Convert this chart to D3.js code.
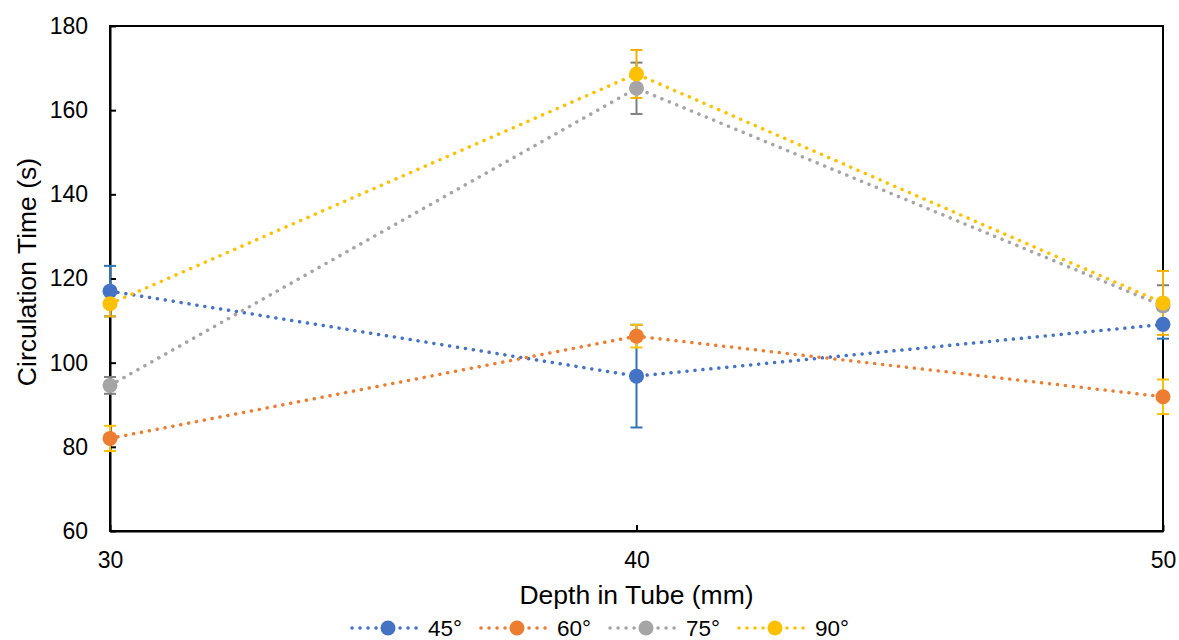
<!DOCTYPE html>
<html>
<head>
<meta charset="utf-8">
<script src="https://cdn.jsdelivr.net/npm/d3@7"></script>
<style>
  html, body { margin: 0; padding: 0; background: #fff; }
  svg { display: block; font-family: "Liberation Sans", Arial, sans-serif; }
</style>
</head>
<body>
<svg id="chart" width="1179" height="640"></svg>
<script>
// Depth positions along the tube (mm)
const depths = [30, 40, 50];
const xTicks = [30, 40, 50];
const yTicks = [60, 80, 100, 120, 140, 160, 180];

// Series names (tube angle)
const seriesNames = ["45°", "60°", "75°", "90°"];

// Mean circulation time (s) per depth
const time45 = [117.0, 96.8, 109.1];
const time60 = [82.0, 106.3, 91.9];
const time75 = [94.6, 165.2, 113.5];
const time90 = [114.0, 168.6, 114.2];

// Error bar half-widths (s)
const err45 = [6.0, 12.2, 3.4];
const err60 = [3.0, 2.7, 4.1];
const err75 = [2.0, 6.1, 4.9];
const err90 = [3.0, 5.7, 7.6];

const lineColors = ["#4472C4", "#ED7D31", "#A5A5A5", "#FFC000"];
const errColors = ["#2E75B6", "#FFC000", "#7F7F7F", "#F2B000"];

const series = seriesNames.map((name, i) => ({
  name,
  values: [time45, time60, time75, time90][i],
  errs: [err45, err60, err75, err90][i],
  color: lineColors[i],
  errColor: errColors[i]
}));

const svg = d3.select("#chart");
const plotLeft = 110, plotRight = 1163, plotTop = 26, plotBottom = 531;

const x = d3.scaleLinear().domain([30, 50]).range([plotLeft, plotRight]);
const y = d3.scaleLinear().domain([60, 180]).range([plotBottom, plotTop]);

// Plot frame
svg.append("rect")
  .attr("x", plotLeft).attr("y", plotTop)
  .attr("width", plotRight - plotLeft).attr("height", plotBottom - plotTop)
  .attr("fill", "none").attr("stroke", "#000").attr("stroke-width", 2);

// Axes with inward ticks
const yAxis = svg.append("g")
  .attr("transform", `translate(${plotLeft},0)`)
  .call(d3.axisLeft(y).tickValues(yTicks).tickSizeInner(-6).tickSizeOuter(0).tickPadding(22));
yAxis.select(".domain").attr("stroke", "#000").attr("stroke-width", 2);
yAxis.selectAll(".tick line").attr("stroke", "#000").attr("stroke-width", 2);
yAxis.selectAll(".tick text")
  .attr("font-size", 23).attr("fill", "#000")
  .attr("font-family", "Liberation Sans, Arial, sans-serif");

const xAxis = svg.append("g")
  .attr("transform", `translate(0,${plotBottom})`)
  .call(d3.axisBottom(x).tickValues(xTicks).tickSizeInner(-6).tickSizeOuter(0).tickPadding(21));
xAxis.select(".domain").attr("stroke", "#000").attr("stroke-width", 2);
xAxis.selectAll(".tick line").attr("stroke", "#000").attr("stroke-width", 2);
xAxis.selectAll(".tick text")
  .attr("font-size", 23).attr("fill", "#000")
  .attr("font-family", "Liberation Sans, Arial, sans-serif");

// Axis titles
svg.append("text")
  .attr("x", (plotLeft + plotRight) / 2).attr("y", 604)
  .attr("text-anchor", "middle").attr("font-size", 26.5).attr("fill", "#000")
  .text("Depth in Tube (mm)");

svg.append("text")
  .attr("transform", `translate(36,272) rotate(-90)`)
  .attr("text-anchor", "middle").attr("font-size", 26.5).attr("fill", "#000")
  .text("Circulation Time (s)");

const line = d3.line().x((d, i) => x(depths[i])).y(d => y(d));

// Dotted connecting lines
series.forEach(s => {
  svg.append("path")
    .datum(s.values)
    .attr("d", line)
    .attr("fill", "none")
    .attr("stroke", s.color)
    .attr("stroke-width", 3.5)
    .attr("stroke-linecap", "round")
    .attr("stroke-dasharray", "0.1 7.9");
});

// Error bars
series.forEach(s => {
  const g = svg.append("g");
  s.values.forEach((v, i) => {
    const cx = x(depths[i]);
    const y1 = y(v + s.errs[i]), y2 = y(v - s.errs[i]);
    g.append("line").attr("x1", cx).attr("x2", cx).attr("y1", y1).attr("y2", y2)
      .attr("stroke", s.errColor).attr("stroke-width", 2);
    [y1, y2].forEach(yy => {
      g.append("line").attr("x1", cx - 6).attr("x2", cx + 6).attr("y1", yy).attr("y2", yy)
        .attr("stroke", s.errColor).attr("stroke-width", 2);
    });
  });
});

// Markers
series.forEach(s => {
  svg.append("g").selectAll("circle")
    .data(s.values)
    .join("circle")
    .attr("cx", (d, i) => x(depths[i]))
    .attr("cy", d => y(d))
    .attr("r", 7.5)
    .attr("fill", s.color);
});

// Legend
const legendStart = 352, legendStep = 129, legendY = 628;
const legend = svg.append("g");
series.forEach((s, i) => {
  const lx = legendStart + i * legendStep;
  const item = legend.append("g").attr("transform", `translate(${lx},${legendY})`);
  item.append("line")
    .attr("x1", 0).attr("x2", 70).attr("y1", 0).attr("y2", 0)
    .attr("stroke", s.color).attr("stroke-width", 3.5)
    .attr("stroke-linecap", "round").attr("stroke-dasharray", "0.1 7.9");
  item.append("circle").attr("cx", 36).attr("cy", 0).attr("r", 7.5).attr("fill", s.color);
  item.append("text")
    .attr("x", 76).attr("y", 7.5)
    .attr("font-size", 22.5).attr("fill", "#000")
    .text(s.name);
});
</script>
</body>
</html>
